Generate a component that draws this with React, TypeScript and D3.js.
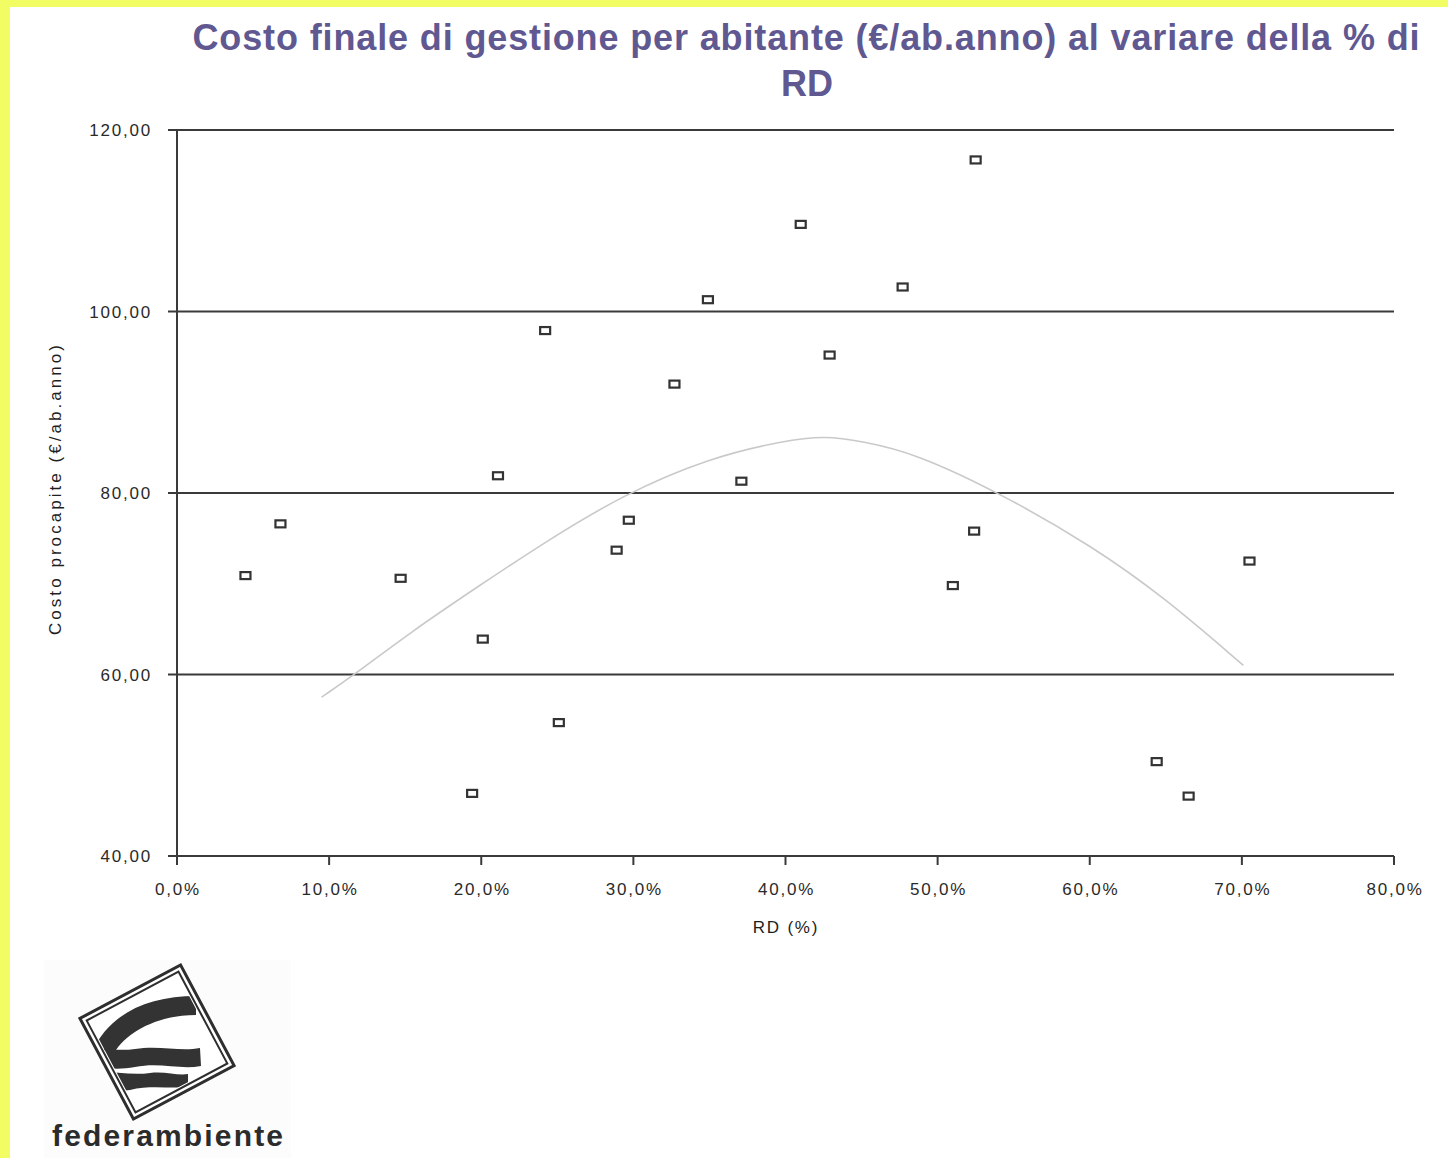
import React from "react";
import * as d3 from "d3";

// ---- data ----
const rdPct = [4.5, 6.8, 14.7, 19.4, 20.1, 21.1, 24.2, 25.1, 28.9, 29.7, 32.7, 34.9, 37.1, 41.0, 42.9, 47.7, 51.0, 52.4, 52.5, 64.4, 66.5, 70.5];
const costoProcapite = [70.9, 76.6, 70.6, 46.9, 63.9, 81.9, 97.9, 54.7, 73.7, 77.0, 92.0, 101.3, 81.3, 109.6, 95.2, 102.7, 69.8, 75.8, 116.7, 50.4, 46.6, 72.5];

// polynomial trend line
const trendX = [9.5, 11.6, 15.3, 19.7, 24.1, 29.3, 35.0, 40.0, 42.6, 45.0, 48.5, 54.2, 60.2, 64.9, 70.1];
const trendY = [57.5, 59.9, 64.6, 69.6, 74.5, 79.8, 83.9, 85.8, 86.3, 85.7, 84.4, 79.9, 74.1, 68.5, 61.0];

const yTicks = [40, 60, 80, 100, 120];
const xTicks = [0, 10, 20, 30, 40, 50, 60, 70, 80];

const titleLine1 = "Costo finale di gestione per abitante (€/ab.anno) al variare della % di";
const titleLine2 = "RD";
const yTitle = "Costo procapite (€/ab.anno)";
const xTitle = "RD (%)";

const W = 1448;
const H = 1158;
const PL = 177, PR = 1394, PT = 130, PB = 856;

const fmtY = (v: number) => v.toFixed(2).replace(".", ",");
const fmtX = (v: number) => v.toFixed(1).replace(".", ",") + "%";

export default function App() {
  const x = d3.scaleLinear().domain([0, 80]).range([PL, PR]);
  const y = d3.scaleLinear().domain([40, 120]).range([PB, PT]);
  const axisColor = "#3a3a3a";
  const labelFont = "'Liberation Sans', Arial, sans-serif";

  const trendPts: [number, number][] = trendX.map((v, i) => [x(v), y(trendY[i])]);
  const trendPath = d3.line().curve(d3.curveBasis)(trendPts) || "";

  // logo geometry
  const lcx = 157, lcy = 1042;
  const innerSide = 100;
  const outerSide = 114;

  return (
    <div style={{ position: "absolute", left: 0, top: 0 }}>
      <svg width={W} height={H} viewBox={`0 0 ${W} ${H}`} style={{ display: "block" }}>
        <defs>
          <clipPath id="logoClip">
            <rect
              x={lcx - innerSide / 2}
              y={lcy - innerSide / 2}
              width={innerSide}
              height={innerSide}
              transform={`rotate(-28 ${lcx} ${lcy})`}
            />
          </clipPath>
        </defs>
        <rect x={0} y={0} width={W} height={H} fill="#ffffff" />
        {/* yellow frame */}
        <rect x={0} y={0} width={W} height={7} fill="#f1fd63" />
        <rect x={0} y={0} width={10} height={H} fill="#f1fd63" />

        {/* title */}
        <text
          x={806}
          y={50}
          textAnchor="middle"
          fontFamily={labelFont}
          fontWeight="bold"
          fontSize={36}
          fill="#5f5891"
          textLength={1227}
          lengthAdjust="spacing"
        >
          {titleLine1}
        </text>
        <text x={807} y={96} textAnchor="middle" fontFamily={labelFont} fontWeight="bold" fontSize={36} fill="#5f5891">
          {titleLine2}
        </text>

        {/* horizontal grid lines */}
        {yTicks.map((t) => (
          <g key={"gy" + t}>
            <line x1={PL - 9} x2={PR} y1={y(t)} y2={y(t)} stroke={axisColor} strokeWidth={2} />
            <text
              x={152}
              y={y(t) + 6}
              textAnchor="end"
              fontFamily={labelFont}
              fontSize={17}
              letterSpacing={1.8}
              fill="#2a2a2a"
            >
              {fmtY(t)}
            </text>
          </g>
        ))}
        {/* y axis */}
        <line x1={PL} x2={PL} y1={PT} y2={PB + 9} stroke={axisColor} strokeWidth={2} />
        {/* x ticks */}
        {xTicks.map((t) => (
          <g key={"gx" + t}>
            <line x1={x(t)} x2={x(t)} y1={PB} y2={PB + 9} stroke={axisColor} strokeWidth={2} />
            <text
              x={x(t) + 1}
              y={895}
              textAnchor="middle"
              fontFamily={labelFont}
              fontSize={17}
              letterSpacing={1.8}
              fill="#2a2a2a"
            >
              {fmtX(t)}
            </text>
          </g>
        ))}

        {/* axis titles */}
        <text
          transform="translate(61,490) rotate(-90)"
          textAnchor="middle"
          fontFamily={labelFont}
          fontSize={17}
          fill="#1e1e1e"
          textLength={290}
          lengthAdjust="spacing"
        >
          {yTitle}
        </text>
        <text x={786} y={933} textAnchor="middle" fontFamily={labelFont} fontSize={17} letterSpacing={1.8} fill="#1e1e1e">
          {xTitle}
        </text>

        {/* trend line */}
        <path d={trendPath} fill="none" stroke="#c9c9c9" strokeWidth={1.6} />

        {/* points */}
        {rdPct.map((v, i) => (
          <rect
            key={"p" + i}
            x={x(v) - 5}
            y={y(costoProcapite[i]) - 3.5}
            width={10}
            height={7}
            fill="#fff"
            stroke="#333"
            strokeWidth={2.2}
          />
        ))}

        {/* logo */}
        <rect x={44} y={960} width={247} height={198} fill="#fcfcfc" />
        <g transform={`rotate(-28 ${lcx} ${lcy})`}>
          <rect
            x={lcx - outerSide / 2}
            y={lcy - outerSide / 2}
            width={outerSide}
            height={outerSide}
            fill="#fff"
            stroke="#2e2e2e"
            strokeWidth={3}
          />
          <rect
            x={lcx - innerSide / 2 - 2}
            y={lcy - innerSide / 2 - 2}
            width={innerSide + 4}
            height={innerSide + 4}
            fill="#fff"
            stroke="#2e2e2e"
            strokeWidth={2}
          />
        </g>
        <g clipPath="url(#logoClip)" fill="#333">
          <path d="M 92 1052 C 110 1012, 150 996, 196 996 L 196 1015 C 160 1015, 130 1030, 116 1050 Z" />
          <path d="M 80 1049 C 100 1046, 115 1052, 135 1049 C 160 1045, 180 1052, 200 1048 L 201 1066 C 180 1070, 160 1062, 135 1067 C 115 1071, 100 1066, 80 1069 Z" />
          <path d="M 90 1072 C 110 1070, 130 1076, 150 1073 C 165 1071, 178 1076, 188 1074 L 188 1087 C 170 1089, 150 1085, 130 1090 C 115 1092, 100 1088, 90 1090 Z" />
        </g>
        <text
          x={52}
          y={1146}
          fontFamily={labelFont}
          fontWeight="bold"
          fontSize={30}
          fill="#2b2b2b"
          textLength={231}
          lengthAdjust="spacing"
        >
          federambiente
        </text>
      </svg>
    </div>
  );
}
